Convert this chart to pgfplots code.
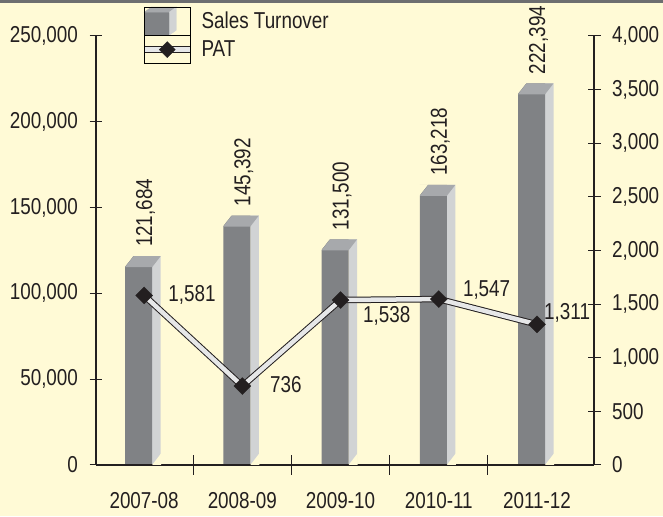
\documentclass[border=0pt]{standalone}
\usepackage{pgfplots}
\usepackage{pgfplotstable}
\pgfplotsset{compat=1.18}
\usepackage{fontspec}
\setmainfont{Liberation Sans}[FakeStretch=0.82]
\definecolor{bg}{HTML}{FFFAD6}
\definecolor{frontc}{HTML}{808285}
\definecolor{sidec}{HTML}{D1D3D4}
\definecolor{topc}{HTML}{A7A9AC}
\definecolor{ink}{HTML}{231F20}
\definecolor{border}{HTML}{6D6E70}
\definecolor{linein}{HTML}{E6E7E8}
\newcommand{\lbl}{\fontsize{23}{26}\selectfont}

\pgfdeclareplotmark{topface}{%
  \pgfsetfillcolor{bg}%
  \pgfpathmoveto{\pgfpoint{-19.6pt}{-11pt}}%
  \pgfpathlineto{\pgfpoint{-19.6pt}{0.6pt}}%
  \pgfpathlineto{\pgfpoint{-10.5pt}{0.6pt}}%
  \pgfpathclose\pgfusepath{fill}%
  \pgfsetfillcolor{topc}%
  \pgfpathmoveto{\pgfpoint{-19pt}{-11pt}}%
  \pgfpathlineto{\pgfpoint{8pt}{-11pt}}%
  \pgfpathlineto{\pgfpoint{16.5pt}{0pt}}%
  \pgfpathlineto{\pgfpoint{-10.5pt}{0pt}}%
  \pgfpathclose\pgfusepath{fill}%
}
\pgfdeclareplotmark{botcover}{%
  \pgfsetfillcolor{bg}%
  \pgfpathmoveto{\pgfpoint{8pt}{0pt}}%
  \pgfpathlineto{\pgfpoint{17pt}{0pt}}%
  \pgfpathlineto{\pgfpoint{17pt}{11.5pt}}%
  \pgfpathlineto{\pgfpoint{16.5pt}{11pt}}%
  \pgfpathclose\pgfusepath{fill}%
}

\pgfplotstableread{
x v
0 121684
1 145392
2 131500
3 163218
4 222394
}\sales
\pgfplotstableread{
x p
0 1581
1 736
2 1538
3 1547
4 1311
}\pat

\begin{document}
\begin{tikzpicture}[x=1pt,y=1pt]
\fill[bg] (0,0) rectangle (663,516);
\fill[border] (0,513) rectangle (663,516);
\begin{axis}[
  at={(96pt,51pt)}, anchor=south west,
  scale only axis, width=498pt, height=429pt,
  xmin=-0.49, xmax=4.58, ymin=0, ymax=250000,
  axis on top, clip=false,
  axis x line*=bottom, axis y line*=left,
  axis line style={ink, line width=1.1pt, -},
  ytick={0,50000,100000,150000,200000,250000},
  scaled y ticks=false,
  /pgf/number format/.cd, fixed, precision=0, 1000 sep={,}, assume math mode=true,
  /pgfplots/.cd,
  xtick={0,1,2,3,4},
  xticklabels={2007-08,2008-09,2009-10,2010-11,2011-12},
  major x tick style={draw=none},
  minor xtick={0.5,1.5,2.5,3.5},
  minor tick length=19pt,
  minor x tick style={draw=ink, line width=1pt},
  major tick length=13pt,
  tick align=center,
  y tick style={draw=ink, line width=1pt},
  tick label style={font=\lbl, text=ink},
  xticklabel style={yshift=-17pt},
  yticklabel style={xshift=-8pt},
]
\addplot[ybar, bar width=8.5pt, bar shift=12.25pt, fill=sidec, draw=none] table[x=x,y=v]{\sales};
\addplot[ybar, bar width=27pt, bar shift=-5.5pt, fill=frontc, draw=none] table[x=x,y=v]{\sales};
\addplot[only marks, mark=topface, point meta=y,
  nodes near coords={\pgfmathprintnumber[fixed, precision=0, 1000 sep={,}, assume math mode=true]{\pgfplotspointmeta}},
  every node near coord/.append style={font=\lbl, text=ink, inner sep=0pt, yshift=9pt, xshift=1.5pt, rotate=90, anchor=west}]
  table[x=x,y=v]{\sales};
\addplot[only marks, mark=botcover] table[x=x, y expr=0]{\sales};
\end{axis}
\begin{axis}[
  at={(96pt,51pt)}, anchor=south west,
  scale only axis, width=498pt, height=429pt,
  xmin=-0.49, xmax=4.58, ymin=0, ymax=4000,
  clip=false,
  axis x line=none, axis y line*=right,
  axis line style={ink, line width=1.1pt, -},
  ytick={0,500,1000,1500,2000,2500,3000,3500,4000},
  scaled y ticks=false,
  /pgf/number format/.cd, fixed, precision=0, 1000 sep={,}, assume math mode=true,
  /pgfplots/.cd,
  major tick length=13pt,
  tick align=center,
  y tick style={draw=ink, line width=1pt},
  tick label style={font=\lbl, text=ink},
  yticklabel style={xshift=8pt},
  legend style={at={(0.0904,1.0676)}, anchor=north west, draw=none, fill=none,
    inner sep=0pt, outer sep=0pt, font=\lbl, text=ink, row sep=0pt, column sep=8pt,
    nodes={inner sep=0pt}},
  legend cell align=left,
]
\addplot[ink, line width=1pt, double=linein, double distance=4.5pt, forget plot] table[x=x,y=p]{\pat};
\addplot[only marks, mark=square*, mark size=6pt, mark options={rotate=45, fill=ink, draw=ink, line width=0.3pt}, forget plot] table[x=x,y=p]{\pat};
\node[anchor=west, font=\lbl, text=ink, inner sep=0pt, xshift=24pt] at (axis cs:0,1581) {1,581};
\node[anchor=west, font=\lbl, text=ink, inner sep=0pt, xshift=27.6pt, yshift=1pt] at (axis cs:1,736) {736};
\node[anchor=west, font=\lbl, text=ink, inner sep=0pt, xshift=22.4pt, yshift=-16pt] at (axis cs:2,1538) {1,538};
\node[anchor=west, font=\lbl, text=ink, inner sep=0pt, xshift=24pt, yshift=9pt] at (axis cs:3,1547) {1,547};
\node[anchor=west, font=\lbl, text=ink, inner sep=0pt, xshift=7pt, yshift=11pt] at (axis cs:4,1311) {1,311};
\addlegendimage{legend image code/.code={
  \fill[frontc] (0pt,-14pt) rectangle (25pt,9pt);
  \fill[topc] (0pt,9pt) -- (25pt,9pt) -- (32pt,14pt) -- (7pt,14pt) -- cycle;
  \fill[sidec] (25pt,-14pt) -- (25pt,9pt) -- (32pt,14pt) -- (32pt,-9pt) -- cycle;
  \path (0pt,-14pt) rectangle (46pt,14pt);
}}
\addlegendentry{Sales Turnover}
\addlegendimage{legend image code/.code={
  \draw[ink, line width=1pt, double=linein, double distance=4.5pt] (0pt,0pt) -- (46pt,0pt);
  \fill[ink] (23pt,0pt) +(-8pt,0pt) -- +(0pt,8pt) -- +(8pt,0pt) -- +(0pt,-8pt) -- cycle;
  \path (0pt,-14pt) rectangle (46pt,14pt);
}}
\addlegendentry{PAT}
\end{axis}
\end{tikzpicture}
\end{document}
